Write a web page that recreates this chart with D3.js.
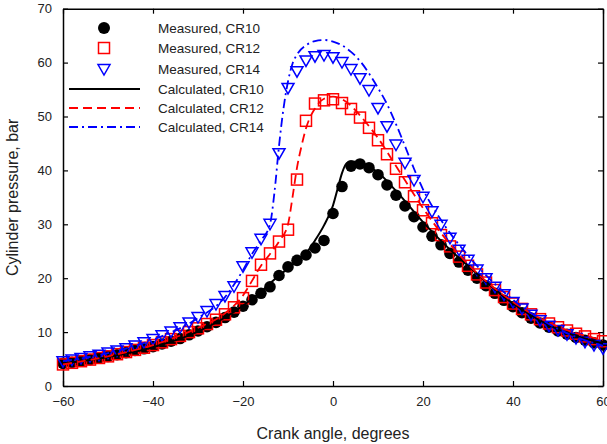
<!DOCTYPE html>
<html>
<head>
<meta charset="utf-8">
<script src="https://cdn.jsdelivr.net/npm/d3@7"></script>
<style>
  body { margin: 0; background: #fff; }
  svg text { font-family: "Liberation Sans", Arial, sans-serif; fill: #222; }
</style>
</head>
<body>
<div id="chart"></div>
<script>

// measured points, every 2 degrees
var angles = [-60, -58, -56, -54, -52, -50, -48, -46, -44, -42, -40, -38, -36, -34, -32, -30,
              -28, -26, -24, -22, -20, -18, -16, -14, -12, -10, -8, -6, -4, -2, 0,
              2, 4, 6, 8, 10, 12, 14, 16, 18, 20, 22, 24, 26, 28, 30,
              32, 34, 36, 38, 40, 42, 44, 46, 48, 50, 52, 54, 56, 58, 60];

var measCR10 = [4.2, 4.4, 4.6, 4.9, 5.2, 5.5, 5.8, 6.2, 6.6, 6.9, 7.3, 7.8, 8.3, 8.8, 9.5, 10.2,
                11.0, 11.8, 12.7, 13.7, 14.8, 16.0, 17.2, 18.4, 20.5, 22.1, 23.3, 24.3, 25.6, 27.0, 32.0,
                37.0, 40.8, 41.2, 40.5, 39.2, 37.3, 35.4, 33.4, 31.4, 29.5, 27.8, 26.2, 24.6, 23.0, 21.5,
                20.0, 18.6, 17.2, 15.9, 14.7, 13.6, 12.6, 11.7, 10.9, 10.2, 9.6, 9.0, 8.5, 8.0, 7.6];

var measCR12 = [4.0, 4.3, 4.6, 4.9, 5.2, 5.5, 5.9, 6.3, 6.7, 7.1, 7.6, 8.1, 8.7, 9.3, 10.0, 10.7,
                11.5, 12.3, 13.3, 14.6, 16.3, 19.5, 22.5, 24.6, 26.8, 29.0, 38.3, 49.2, 52.4, 53.0, 53.2,
                52.5, 51.4, 49.8, 47.9, 45.6, 43.0, 40.3, 37.8, 35.2, 32.6, 30.2, 28.0, 25.9, 24.0, 22.3,
                20.7, 19.2, 17.8, 16.5, 15.3, 14.3, 13.3, 12.4, 11.6, 10.9, 10.3, 9.7, 9.2, 8.7, 8.3];

var measCR14 = [4.6, 4.9, 5.2, 5.5, 5.8, 6.2, 6.6, 7.0, 7.5, 8.1, 8.7, 9.4, 10.1, 10.9, 11.8, 12.8,
                13.9, 15.2, 16.7, 18.5, 22.2, 24.8, 27.3, 30.1, 43.2, 55.3, 58.4, 60.4, 61.2, 61.4, 61.0,
                60.1, 58.8, 57.1, 54.9, 51.6, 48.2, 44.8, 41.4, 38.2, 35.1, 32.4, 29.9, 27.5, 25.3, 23.4,
                21.6, 20.0, 18.4, 17.0, 15.6, 14.4, 13.2, 12.2, 11.2, 10.4, 9.6, 8.9, 8.2, 7.6, 7.0];

// calculated curves
var calcAnglesCR10 = [-60, -50, -40, -30, -20, -16, -14, -12, -10, -8, -6, -4, -2, 0, 1, 2, 3, 4, 6, 8, 10, 14, 20, 26, 30, 40, 50, 60];
var calcCR10 = [4.2, 5.4, 7.2, 10.1, 14.9, 17.5, 19.0, 20.5, 21.8, 23.2, 24.6, 27.0, 29.8, 33.5, 36.5, 39.5, 41.3, 41.7, 41.4, 40.7, 39.6, 36.2, 30.4, 25.3, 22.3, 15.3, 10.5, 7.9];

var calcAnglesCR12 = [-60, -50, -40, -30, -24, -20, -18, -16, -14, -12, -10, -9, -8, -7, -6, -4, -2, 0, 2, 4, 6, 8, 10, 14, 20, 26, 30, 40, 50, 60];
var calcCR12 = [4.0, 5.5, 7.6, 10.8, 13.5, 16.8, 19.5, 22.3, 24.5, 26.8, 30.0, 35.0, 40.5, 44.5, 47.8, 51.5, 53.3, 53.7, 53.2, 52.0, 50.2, 48.2, 46.0, 40.8, 33.0, 26.3, 22.6, 15.6, 11.0, 8.5];

var calcAnglesCR14 = [-60, -50, -40, -30, -24, -20, -18, -16, -14, -13, -12, -11, -10, -9, -8, -6, -4, -2, 0, 2, 4, 6, 8, 10, 12, 14, 16, 18, 20, 24, 30, 40, 50, 60];
var calcCR14 = [4.6, 6.1, 8.6, 12.6, 16.5, 21.5, 24.5, 27.0, 30.0, 36.0, 44.5, 51.5, 56.5, 59.8, 61.5, 63.2, 64.0, 64.2, 63.9, 63.2, 62.0, 60.3, 58.0, 55.3, 52.3, 48.6, 44.5, 40.3, 36.5, 30.8, 24.2, 16.0, 10.6, 7.4];

var xTicks = [-60, -40, -20, 0, 20, 40, 60];
var yTicks = [0, 10, 20, 30, 40, 50, 60, 70];

var legendLabels = ["Measured, CR10", "Measured, CR12", "Measured, CR14",
                    "Calculated, CR10", "Calculated, CR12", "Calculated, CR14"];


(function() {

    "use strict";

    var W = 607, H = 444;
    var plot = {left: 63, right: 603, top: 8.7, bottom: 386};

    var svg = d3.select("#chart").append("svg")
        .attr("width", W).attr("height", H);

    var xScale = d3.scaleLinear().domain([-60, 60]).range([plot.left, plot.right]);
    var yScale = d3.scaleLinear().domain([0, 70]).range([plot.bottom, plot.top]);

    // axes, ticks pointing inward on all four sides
    svg.append("g").attr("transform", "translate(0," + plot.bottom + ")")
        .call(d3.axisBottom(xScale).tickValues(xTicks).tickSizeInner(-5).tickSizeOuter(0).tickPadding(11))
        .call(styleAxis);
    svg.append("g").attr("transform", "translate(0," + plot.top + ")")
        .call(d3.axisTop(xScale).tickValues(xTicks).tickSizeInner(-5).tickSizeOuter(0).tickFormat(""))
        .call(styleAxis);
    svg.append("g").attr("transform", "translate(" + plot.left + ",0)")
        .call(d3.axisLeft(yScale).tickValues(yTicks).tickSizeInner(-5).tickSizeOuter(0).tickPadding(11))
        .call(styleAxis);
    svg.append("g").attr("transform", "translate(" + plot.right + ",0)")
        .call(d3.axisRight(yScale).tickValues(yTicks).tickSizeInner(-5).tickSizeOuter(0).tickFormat(""))
        .call(styleAxis);

    function styleAxis(g) {
        g.select(".domain").attr("stroke", "#000").attr("stroke-width", 1.5);
        g.selectAll(".tick line").attr("stroke", "#000").attr("stroke-width", 1.2);
        g.selectAll("text").attr("font-size", 13).attr("fill", "#222")
            .attr("font-family", "Liberation Sans, Arial, sans-serif");
    }

    // axis titles
    svg.append("text")
        .attr("x", xScale(0)).attr("y", 439)
        .attr("text-anchor", "middle").attr("font-size", 16)
        .text("Crank angle, degrees");
    svg.append("text")
        .attr("transform", "translate(18," + yScale(35) + ") rotate(-90)")
        .attr("text-anchor", "middle").attr("font-size", 16)
        .text("Cylinder pressure, bar");

    // markers
    var markers = svg.append("g");

    markers.selectAll("circle.cr10")
        .data(d3.zip(angles, measCR10))
        .enter().append("circle")
        .attr("class", "cr10")
        .attr("cx", function(d) { return xScale(d[0]); })
        .attr("cy", function(d) { return yScale(d[1]); })
        .attr("r", 5.8)
        .attr("fill", "#000");

    markers.selectAll("rect.cr12")
        .data(d3.zip(angles, measCR12))
        .enter().append("rect")
        .attr("class", "cr12")
        .attr("x", function(d) { return xScale(d[0]) - 5.5; })
        .attr("y", function(d) { return yScale(d[1]) - 5.5; })
        .attr("width", 11).attr("height", 11)
        .attr("fill", "none").attr("stroke", "#ff0000").attr("stroke-width", 1.5);

    var triPath = "M-6,-4.5L6,-4.5L0,6Z";
    markers.selectAll("path.cr14")
        .data(d3.zip(angles, measCR14))
        .enter().append("path")
        .attr("class", "cr14")
        .attr("transform", function(d) { return "translate(" + xScale(d[0]) + "," + yScale(d[1]) + ")"; })
        .attr("d", triPath)
        .attr("fill", "none").attr("stroke", "#0000ff").attr("stroke-width", 1.5);

    // calculated lines
    var line = d3.line()
        .x(function(d) { return xScale(d[0]); })
        .y(function(d) { return yScale(d[1]); })
        .curve(d3.curveMonotoneX);

    var calcSeries = [
        {pts: d3.zip(calcAnglesCR10, calcCR10), color: "#000", dash: null, w: 2},
        {pts: d3.zip(calcAnglesCR12, calcCR12), color: "#ff0000", dash: "9,5", w: 1.8},
        {pts: d3.zip(calcAnglesCR14, calcCR14), color: "#0000ff", dash: "9,4,2,4", w: 1.8}
    ];

    svg.append("g").selectAll("path")
        .data(calcSeries)
        .enter().append("path")
        .attr("d", function(d) { return line(d.pts); })
        .attr("fill", "none")
        .attr("stroke", function(d) { return d.color; })
        .attr("stroke-width", function(d) { return d.w; })
        .attr("stroke-dasharray", function(d) { return d.dash; });

    // legend
    var legend = svg.append("g");
    var rowY = [28, 48, 69, 89, 108, 127];
    var symX = 104;

    legend.append("circle").attr("cx", symX).attr("cy", rowY[0]).attr("r", 6).attr("fill", "#000");
    legend.append("rect").attr("x", symX - 5.5).attr("y", rowY[1] - 5.5).attr("width", 11).attr("height", 11)
        .attr("fill", "none").attr("stroke", "#ff0000").attr("stroke-width", 1.5);
    legend.append("path").attr("transform", "translate(" + symX + "," + rowY[2] + ")").attr("d", triPath)
        .attr("fill", "none").attr("stroke", "#0000ff").attr("stroke-width", 1.5);

    calcSeries.forEach(function(s, i) {
        legend.append("line")
            .attr("x1", 69).attr("x2", 140)
            .attr("y1", rowY[3 + i]).attr("y2", rowY[3 + i])
            .attr("stroke", s.color).attr("stroke-width", s.w)
            .attr("stroke-dasharray", s.dash);
    });

    legend.selectAll("text")
        .data(legendLabels)
        .enter().append("text")
        .attr("x", 158)
        .attr("y", function(d, i) { return rowY[i]; })
        .attr("dy", "0.35em")
        .attr("font-size", 13.5)
        .text(function(d) { return d; });

})();
</script>
</body>
</html>
